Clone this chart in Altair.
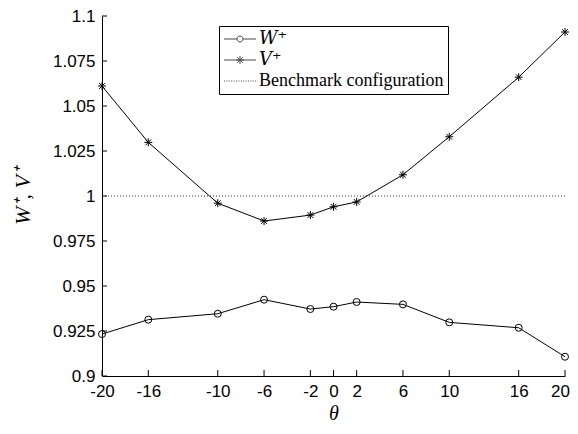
import altair as alt
import pandas as pd

# ---- data ----
theta = [-20, -16, -10, -6, -2, 0, 2, 6, 10, 16, 20]
w_plus = [0.9233, 0.9313, 0.9346, 0.9424, 0.9372, 0.9385, 0.9411, 0.9398, 0.9298, 0.9268, 0.9107]
v_plus = [1.0611, 1.0298, 0.9960, 0.9861, 0.9894, 0.9940, 0.9967, 1.0118, 1.0329, 1.0660, 1.0911]
benchmark = 1.0
x_ticks = [-20, -16, -10, -6, -2, 0, 2, 6, 10, 16, 20]
y_ticks = [0.9, 0.925, 0.95, 0.975, 1.0, 1.025, 1.05, 1.075, 1.1]
series_names = ["𝑊⁺", "𝑉⁺", "Benchmark configuration"]

W, H = 463, 360

df = pd.DataFrame({
    "theta": theta * 2,
    "value": w_plus + v_plus,
    "series": [series_names[0]] * len(theta) + [series_names[1]] * len(theta),
})
df_w = df[df.series == series_names[0]]
df_v = df[df.series == series_names[1]]

xs = alt.Scale(domain=[-20, 20], nice=False, zero=False)
ys = alt.Scale(domain=[0.9, 1.1], nice=False, zero=False)

x_axis = alt.Axis(values=x_ticks, title="θ", grid=False, ticks=False, domain=True,
                  labelFlush=False, labelOverlap=False, labelPadding=7,
                  labelExpr="'' + datum.value",
                  labelOffset={"condition": {"test": "datum.value == 20", "value": -5}, "value": 0},
                  titleFont="Liberation Serif", titleFontStyle="italic", titleFontSize=20,
                  titleFontWeight="normal", titleX=W / 2, titleY=37, titleBaseline="middle")
y_axis = alt.Axis(values=y_ticks, title="W⁺, V⁺", grid=False, ticks=False, domain=True,
                  labelFlush=False, labelOverlap=False, labelPadding=7, format=".4~f",
                  titleFont="Liberation Serif", titleFontStyle="italic", titleFontSize=22,
                  titleFontWeight="normal", titleX=-80, titleY=H / 2, titleAngle=-90,
                  titleAlign="center", titleBaseline="middle")

X = alt.X("theta:Q", scale=xs, axis=x_axis)
Y = alt.Y("value:Q", scale=ys, axis=y_axis)

# legend symbol paths (line + marker), unit = 8px
def dotted(k=2.0, dash=0.125, period=0.3):
    parts = []
    x = -k
    while x < k:
        parts.append(f"M{x:.3f},0L{min(x + dash, k):.3f},0")
        x += period
    return "".join(parts)

legend_paths = [
    "M-2,0L-0.375,0M0.375,0L2,0M0.375,0A0.375,0.375 0 1,1 -0.375,0A0.375,0.375 0 1,1 0.375,0",
    "M-2,0L2,0M0,-0.5L0,0.5M-0.5,0L0.5,0M-0.36,-0.36L0.36,0.36M-0.36,0.36L0.36,-0.36",
    dotted(),
]
star_path = "M0,-1L0,1M-1,0L1,0M-0.72,-0.72L0.72,0.72M-0.72,0.72L0.72,-0.72"

bench_rule = alt.Chart(pd.DataFrame({"b": [benchmark]})).mark_rule(
    color="#333333", strokeWidth=1, strokeDash=[1, 2]
).encode(y=alt.Y("b:Q", scale=ys, axis=y_axis))

line_w = alt.Chart(df_w).mark_line(color="black", strokeWidth=1).encode(x=X, y=Y)
line_v = alt.Chart(df_v).mark_line(color="black", strokeWidth=1).encode(x=X, y=Y)
pts_w = alt.Chart(df_w).mark_point(shape="circle", size=49, filled=False, color="black",
                                   strokeWidth=1, opacity=1).encode(x=X, y=Y)
pts_v = alt.Chart(df_v).mark_point(shape=star_path, size=64, filled=False, color="black",
                                   strokeWidth=1, opacity=1).encode(x=X, y=Y)

# ticks pointing inward
xt = alt.Chart(pd.DataFrame({"theta": x_ticks})).mark_rule(color="black", strokeWidth=1).encode(
    x=X, y=alt.value(H), y2=alt.value(H - 6))
yt = alt.Chart(pd.DataFrame({"value": y_ticks})).mark_rule(color="black", strokeWidth=1).encode(
    y=Y, x=alt.value(0), x2=alt.value(5))

# legend carrier (kept outside the view and clipped)
leg_df = pd.DataFrame({"series": series_names, "theta": [0, 0, 0], "value": [2.0, 2.0, 2.0]})
legend_layer = alt.Chart(leg_df).mark_point(filled=False, color="black", strokeWidth=1,
                                            clip=True, size=256).encode(
    x=X, y=Y,
    shape=alt.Shape("series:N", sort=series_names,
                    scale=alt.Scale(domain=series_names, range=legend_paths),
                    legend=alt.Legend(title=None, orient="none", legendX=117, legendY=10,
                                      strokeColor="black", fillColor="white", padding=4,
                                      symbolOffset=8, labelOffset=10, rowPadding=3,
                                      symbolStrokeColor="black", symbolStrokeWidth=1,
                                      symbolFillColor="transparent", symbolSize=256,
                                      labelFont="Liberation Serif, DejaVu Serif", labelFontSize=18,
                                      labelColor="black", labelLimit=400)),
)

chart = alt.layer(bench_rule, line_w, line_v, pts_w, pts_v, xt, yt, legend_layer).properties(
    width=W, height=H,
    autosize=alt.AutoSizeParams(type="none"),
    padding={"left": 94, "top": 8, "right": 5, "bottom": 48},
).configure_view(stroke=None).configure_axis(
    labelFont="Liberation Sans", labelFontSize=17, labelColor="black",
    domainColor="black", domainWidth=1, titleColor="black",
)

chart.save("out.html", embed_options={"renderer": "svg", "actions": False})
